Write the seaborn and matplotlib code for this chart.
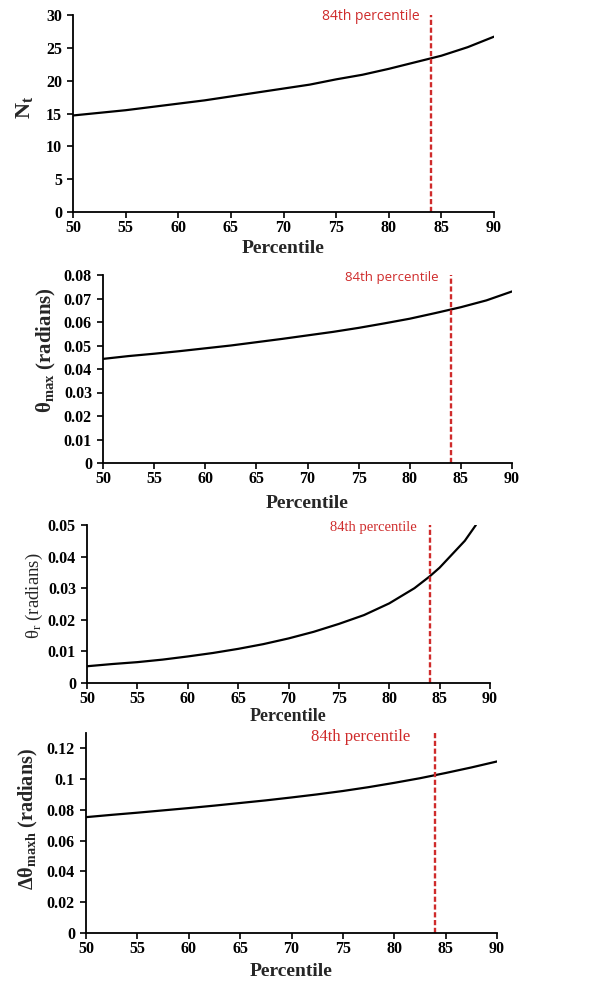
import matplotlib
matplotlib.use("Agg")
import matplotlib.pyplot as plt
import matplotlib.transforms as mtransforms
from matplotlib.ticker import FuncFormatter
import seaborn as sns

# values
pct = [50, 52.5, 55, 57.5, 60, 62.5, 65, 67.5, 70, 72.5, 75, 77.5, 80, 82.5, 85, 87.5, 90]
n_t = [14.7, 15.1, 15.5, 16.0, 16.5, 17.0, 17.6, 18.2, 18.8, 19.4, 20.2, 20.9, 21.8, 22.8, 23.8, 25.1, 26.7]
theta_max = [0.0443, 0.0455, 0.0465, 0.0476, 0.0488, 0.0500, 0.0514, 0.0528, 0.0543, 0.0558, 0.0575,
             0.0594, 0.0614, 0.0638, 0.0663, 0.0692, 0.0730]
pct_r = [50, 52.5, 55, 57.5, 60, 62.5, 65, 67.5, 70, 72.5, 75, 77.5, 80, 82.5, 84, 85, 87.5, 88.6]
theta_r = [0.0053, 0.0060, 0.0066, 0.0074, 0.0084, 0.0095, 0.0108, 0.0123, 0.0141, 0.0162, 0.0187,
           0.0215, 0.0252, 0.0300, 0.0337, 0.0365, 0.0450, 0.0500]
d_theta_maxh = [0.0753, 0.0768, 0.0782, 0.0797, 0.0812, 0.0828, 0.0845, 0.0862, 0.0881, 0.0901, 0.0923,
                0.0948, 0.0976, 0.1006, 0.1040, 0.1076, 0.1115]
marker_pct = 84
marker_text = "84th percentile"

sns.set_style("ticks")
plt.rcParams['font.family'] = ['Liberation Serif', 'DejaVu Serif']
plt.rcParams['mathtext.fontset'] = 'custom'
plt.rcParams['mathtext.rm'] = 'Liberation Serif'
plt.rcParams['mathtext.bf'] = 'Liberation Serif:bold'
plt.rcParams['mathtext.it'] = 'Liberation Serif:italic'

red = '#cf2b2b'
fig = plt.figure(figsize=(5.9, 9.83), dpi=100)

# x, y, ytop, yticks, ylabel, weight, size, axes rect, ylabel coords, xlabel y, xlabel size,
# annotation family, size, x, y
panels = [
    (pct, n_t, 30, [0, 5, 10, 15, 20, 25, 30], r"N$_{\mathbf{t}}$", 'bold', 16,
     [73 / 590, 1 - 212 / 983, 421 / 590, 197 / 983], (-0.116, 0.53), -0.183, 14,
     'Open Sans', 10, 82.95, 0.99),
    (pct, theta_max, 0.08, [0, 0.01, 0.02, 0.03, 0.04, 0.05, 0.06, 0.07, 0.08],
     r"θ$_{\mathbf{max}}$ (radians)", 'bold', 15,
     [103 / 590, 1 - 463 / 983, 409 / 590, 188 / 983], (-0.137, 0.60), -0.213, 14,
     'Open Sans', 9.5, 82.85, 0.986),
    (pct_r, theta_r, 0.05, [0, 0.01, 0.02, 0.03, 0.04, 0.05], r"θ$_{\mathrm{r}}$ (radians)", 'normal', 13.5,
     [87 / 590, 1 - 683 / 983, 403 / 590, 158 / 983], (-0.13, 0.55), -0.215, 13,
     'Liberation Serif', 10.5, 82.7, 0.987),
    (pct, d_theta_maxh, 0.13, [0, 0.02, 0.04, 0.06, 0.08, 0.1, 0.12],
     r"Δθ$_{\mathbf{maxh}}$ (radians)", 'bold', 14.5,
     [86 / 590, 1 - 933 / 983, 411 / 590, 200 / 983], (-0.141, 0.57), -0.195, 14,
     'Liberation Serif', 12, 81.6, 0.98),
]

fmt = FuncFormatter(lambda v, p: f"{round(v, 4):g}")

for xs, ys, ytop, yt, ylab, ywt, ysz, rect, ycoord, xly, xlsz, tfam, tsz, tx, ty in panels:
    ax = fig.add_axes(rect)
    sns.lineplot(x=xs, y=ys, ax=ax, color='black', linewidth=1.6)
    ax.axvline(marker_pct, color=red, linewidth=1.7, dashes=(2.2, 1.1))
    trans = mtransforms.blended_transform_factory(ax.transData, ax.transAxes)
    ax.text(tx, ty, marker_text, transform=trans, ha='right', va='center', color=red,
            family=tfam, fontsize=tsz, clip_on=False)
    ax.set_xlim(50, 90)
    ax.set_ylim(0, ytop)
    ax.set_xticks([50, 55, 60, 65, 70, 75, 80, 85, 90])
    ax.set_yticks(yt)
    ax.yaxis.set_major_formatter(fmt)
    ax.tick_params(direction='out', length=4, width=1.2, labelsize=11.5, colors='black')
    ax.tick_params(axis='x', pad=1.5)
    ax.tick_params(axis='y', pad=4)
    for lab in ax.get_xticklabels() + ax.get_yticklabels():
        lab.set_fontweight('bold')
    for s in ['left', 'bottom']:
        ax.spines[s].set_linewidth(1.3)
        ax.spines[s].set_color('black')
    sns.despine(ax=ax)
    ax.set_xlabel("Percentile", fontsize=xlsz, fontweight='bold', va='center')
    ax.xaxis.set_label_coords(0.5, xly)
    ax.set_ylabel(ylab, fontsize=ysz, fontweight=ywt, va='center')
    ax.yaxis.set_label_coords(*ycoord)

fig.savefig("out.png", dpi=100, facecolor='white')
